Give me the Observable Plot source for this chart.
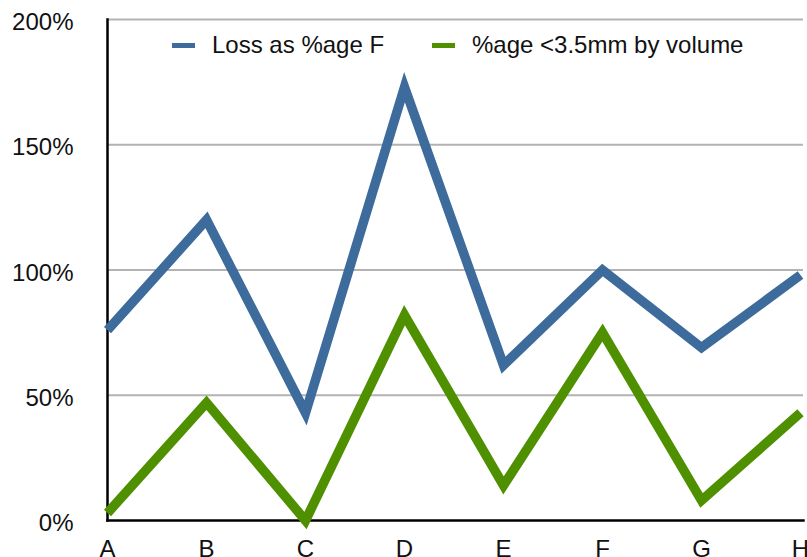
<!DOCTYPE html>
<html>
<head>
<meta charset="utf-8">
<script src="https://cdn.jsdelivr.net/npm/d3@7"></script>
<script src="https://cdn.jsdelivr.net/npm/@observablehq/plot@0.6"></script>
<style>
  html, body { margin: 0; padding: 0; background: #fff; }
  #chart { position: relative; width: 807px; height: 557px; overflow: hidden;
           font-family: "Liberation Sans", Arial, Helvetica, sans-serif; }
  #chart svg { display: block; }
  .legend { position: absolute; top: 0; left: 0; width: 807px; height: 60px; pointer-events: none; }
  .item { position: absolute; top: 33px; display: flex; align-items: center; height: 24px;
          font-size: 24px; line-height: 24px; color: #111; white-space: nowrap; }
  .swatch { width: 23px; height: 5px; margin-right: 17px; margin-top: 1px; }
</style>
</head>
<body>
<div id="chart"></div>
<script>
// Sample categories along the x axis
const categories = ["A", "B", "C", "D", "E", "F", "G", "H"];

// Series values, in percent
const lossPct = [76, 120, 43, 173, 62, 100, 69, 98];
const finesPct = [3, 47, 0, 82, 14, 75, 8, 43];

// Series names and colours
const seriesNames = ["Loss as %age F", "%age <3.5mm by volume"];
const seriesColors = ["#3c6b9c", "#4e9000"];

// Y axis ticks
const yTicks = [0, 50, 100, 150, 200];
const gridTicks = [50, 100, 150, 200];

const rows = [];
[lossPct, finesPct].forEach((values, s) => {
  categories.forEach((c, i) => rows.push({series: seriesNames[s], cat: c, value: values[i]}));
});

const width = 807, height = 557;
const marginLeft = 107, marginRight = 4, marginTop = 19, marginBottom = 37;

const plot = Plot.plot({
  width, height, marginLeft, marginRight, marginTop, marginBottom,
  style: {fontFamily: '"Liberation Sans", Arial, Helvetica, sans-serif', fontSize: "24px", color: "#111", background: "#fff"},
  x: {type: "point", domain: categories, padding: 0, range: [marginLeft, width - 7], label: null},
  y: {domain: [0, 200], label: null},
  color: {domain: seriesNames, range: seriesColors},
  marks: [
    Plot.ruleY(gridTicks, {stroke: "#b3b3b3", strokeWidth: 2}),
    Plot.axisY({ticks: yTicks, tickFormat: d => d + "%", tickSize: 0, tickPadding: 34, dy: 3, fontSize: 24, fill: "#111", label: null}),
    Plot.axisX({tickSize: 0, tickPadding: 19, fontSize: 24, fill: "#111", label: null}),
    Plot.frame({anchor: "left", stroke: "#000", strokeWidth: 2.5}),
    Plot.frame({anchor: "bottom", stroke: "#000", strokeWidth: 2.5}),
    Plot.line(rows, {
      x: "cat", y: "value", z: "series", stroke: "series",
      strokeWidth: 9.5, strokeLinejoin: "miter", strokeLinecap: "butt", strokeMiterlimit: 10
    })
  ]
});

const chart = document.getElementById("chart");
chart.appendChild(plot);

// Legend drawn inside the plot area, along the top
const legend = document.createElement("div");
legend.className = "legend";
const legendLeft = [172, 432];
seriesNames.forEach((name, i) => {
  const item = document.createElement("div");
  item.className = "item";
  item.style.left = legendLeft[i] + "px";
  const sw = document.createElement("span");
  sw.className = "swatch";
  sw.style.background = seriesColors[i];
  const label = document.createElement("span");
  label.textContent = name;
  item.appendChild(sw);
  item.appendChild(label);
  legend.appendChild(item);
});
chart.appendChild(legend);
</script>
</body>
</html>
